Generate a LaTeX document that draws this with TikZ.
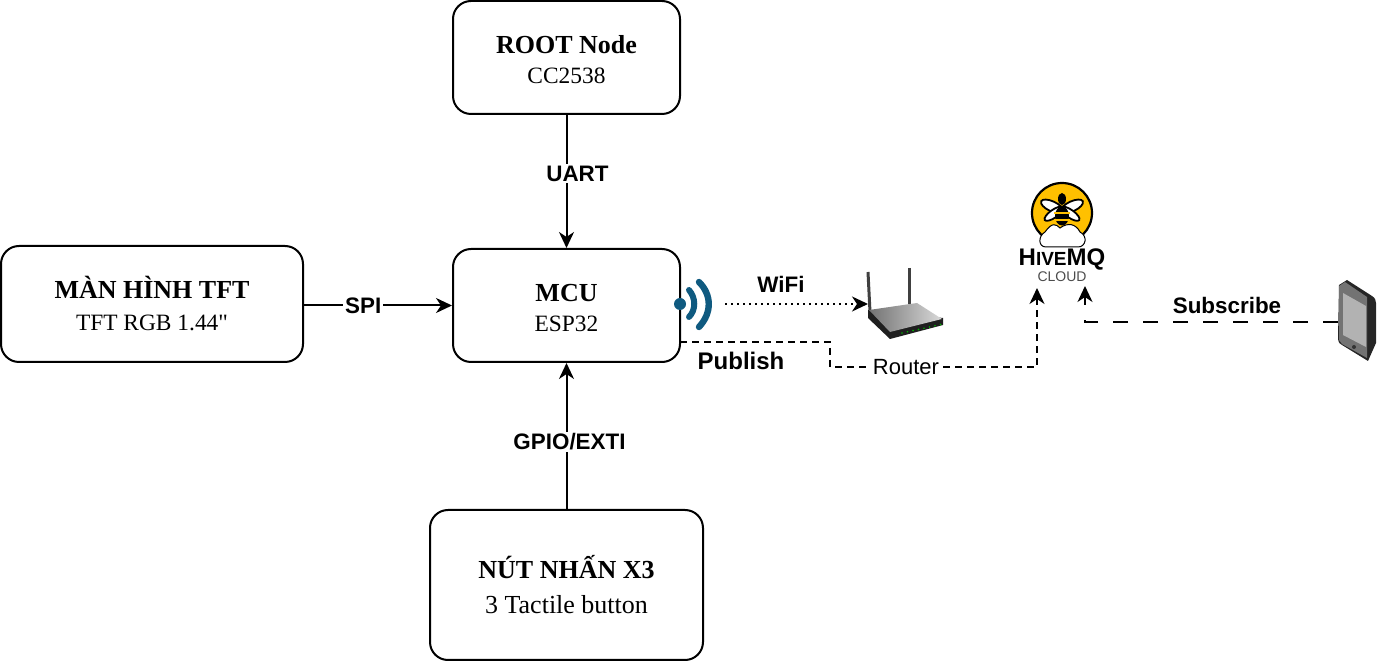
\documentclass[tikz,border=0pt]{standalone}
\usepackage{fontspec}
\setmainfont{Liberation Serif}
\setsansfont{Liberation Sans}
\newfontfamily\plainserif{Liberation Serif}
\usepackage{xcolor}
\usetikzlibrary{arrows.meta, positioning}
\definecolor{wifiblue}{HTML}{0F5A80}
\definecolor{hiveyellow}{HTML}{FFC000}
\tikzset{
    block/.style={draw, rectangle, rounded corners=9pt, line width=1pt, fill=white, text centered, align=center, font=\fontsize{11.7}{16}\selectfont},
    tag/.style={fill=white, inner sep=1pt, font=\sffamily\bfseries\fontsize{11.2}{13}\selectfont},
    link/.style={line width=1pt, -{Stealth[length=8pt,width=7.5pt,inset=2.5pt]}}
}
\newcommand{\blocktitle}[1]{{\bfseries\fontsize{13}{16}\selectfont #1}}

\begin{document}
\begin{tikzpicture}[x=0.5pt, y=-0.5pt]
    \useasboundingbox (0,0) rectangle (1378,662);

    \node (root) [block, minimum width=113.5pt, minimum height=56.5pt] at (566.5,57.5) {\rule{0pt}{11pt}\blocktitle{ROOT Node}\\[-1pt]CC2538};
    \node (mcu) [block, minimum width=113.5pt, minimum height=56.5pt] at (566.5,305.5) {\rule{0pt}{11pt}\blocktitle{MCU}\\[-1pt]ESP32};
    \node (tft) [block, minimum width=151pt, minimum height=58pt] at (152,304) {\blocktitle{MÀN HÌNH TFT}\\TFT RGB 1.44{\plainserif "}};
    \node (btn) [block, minimum width=136.5pt, minimum height=75pt] at (566.5,585) {\blocktitle{NÚT NHẤN X3}\\[1.5pt]{\fontsize{13}{16}\selectfont 3 Tactile button}};

    \draw [link] (root) -- node[tag, xshift=5.5pt, yshift=4pt] {UART} (mcu);
    \draw [link] (tft.east |- 0,305.5) -- node[tag, pos=0.4] {SPI} (mcu.west);
    \draw [link] (btn) -- node[tag, xshift=1.5pt, yshift=-3pt] {GPIO/EXTI} (mcu);

    % wifi symbol
    \coordinate (ant) at (680,304);
    \fill [wifiblue] (ant) circle (6);
    \draw [wifiblue, line width=3pt, line cap=round] (689,290) .. controls (696,298) and (696,310) .. (689,317);
    \draw [wifiblue, line width=3.2pt, line cap=round] (699,282) .. controls (712,295) and (712,313) .. (699,327);

    % router
    \coordinate (gate) at (868,304);
    \draw [line width=1.5pt, black!75] (868,272) -- (870,312);
    \draw [line width=1.5pt, black!75] (909,268) -- (909,304);
    \fill [black!88] (868,310) -- (868,318) -- (890,339) -- (943,325) -- (943,318) -- cycle;
    \shade [left color=black!55, right color=black!15] (869,310) -- (917,303) -- (942,319) -- (890,332) -- cycle;
    \foreach \i in {0,...,7}
        \fill [green!70!black] (902+\i*5.5,333-\i*1.2) circle (0.9);

    \draw [line width=1pt, dotted, -{Stealth[length=8pt,width=7.5pt,inset=2.5pt]}] (725,304) -- (gate);
    \node (wifi) [tag] at (781,284) {WiFi};

    % hivemq logo
    \fill [hiveyellow, draw=black, line width=1.1pt] (1062,213) circle (30);
    \fill [white, draw=black, line width=0.5pt] (1045,232) .. controls (1052,222) and (1056,224) .. (1060,228) .. controls (1068,222) and (1076,224) .. (1080,232) .. controls (1088,236) and (1086,247) .. (1078,247) -- (1046,247) .. controls (1038,247) and (1038,236) .. (1045,232) -- cycle;
    \fill [white, draw=black, line width=0.9pt, rotate around={25:(1062,211)}] (1073,211) ellipse (12 and 5);
    \fill [white, draw=black, line width=0.9pt, rotate around={-25:(1062,211)}] (1051,211) ellipse (12 and 5);
    \fill [white, draw=black, line width=0.9pt, rotate around={-35:(1062,208)}] (1072,208) ellipse (11 and 4);
    \fill [white, draw=black, line width=0.9pt, rotate around={35:(1062,208)}] (1052,208) ellipse (11 and 4);
    \fill [black] (1062,199) ellipse (4 and 6);
    \fill [black] (1062,216) ellipse (7 and 9.5);
    \fill [hiveyellow] (1054,212) rectangle (1070,214.5);
    \fill [hiveyellow] (1054,219) rectangle (1070,221);
    \node (hive) [inner sep=0pt, font=\sffamily\bfseries] at (1062,259.5) {{\fontsize{12}{12}\selectfont H}{\fontsize{9.5}{12}\selectfont IVE}{\fontsize{12}{12}\selectfont MQ}};
    \node (cloud) [inner sep=0pt, text=black!70, font=\sffamily\fontsize{7}{8}\selectfont] at (1062,276.5) {CLOUD};

    % publish path
    \coordinate (pubA) at (680,342);
    \coordinate (pubB) at (830,342);
    \coordinate (pubC) at (830,367);
    \coordinate (pubD) at (1037,367);
    \coordinate (pubE) at (1037,288);
    \draw [line width=0.9pt, dash pattern=on 3.5pt off 2.5pt, -{Stealth[length=8pt,width=7.5pt,inset=2.5pt]}] (pubA) -- (pubB) -- (pubC) -- (pubD) -- (pubE);
    \node (router) [fill=white, inner sep=1pt, font=\sffamily\fontsize{11}{13}\selectfont] at (906,367) {Router};
    \node (publish) [tag, font=\sffamily\bfseries\fontsize{12}{13}\selectfont] at (741,361) {Publish};

    % phone
    \coordinate (phoneL) at (1338,322);
    \fill [black!85] (1339,285) -- (1347,280) -- (1372,296) .. controls (1375,298) and (1376,300) .. (1376,303) -- (1376,343) -- (1368,361) -- (1342,345) .. controls (1339,343) and (1338,342) .. (1338,339) -- cycle;
    \fill [black!55] (1339,286) -- (1345,282) -- (1367,297) -- (1367,358) -- (1342,344) -- (1339,340) -- cycle;
    \fill [black!30] (1343,293) -- (1366,306) -- (1366,347) -- (1343,335) -- cycle;
    \fill [black!80] (1354,347) circle (2);

    % subscribe path
    \coordinate (subA) at (1085,322);
    \coordinate (subB) at (1085,286);
    \draw [line width=1pt, dash pattern=on 7.5pt off 7.5pt, -{Stealth[length=8pt,width=7.5pt,inset=2.5pt]}] (phoneL) -- (subA) -- (subB);
    \node (subscribe) [tag] at (1227,305) {Subscribe};
\end{tikzpicture}
\end{document}
